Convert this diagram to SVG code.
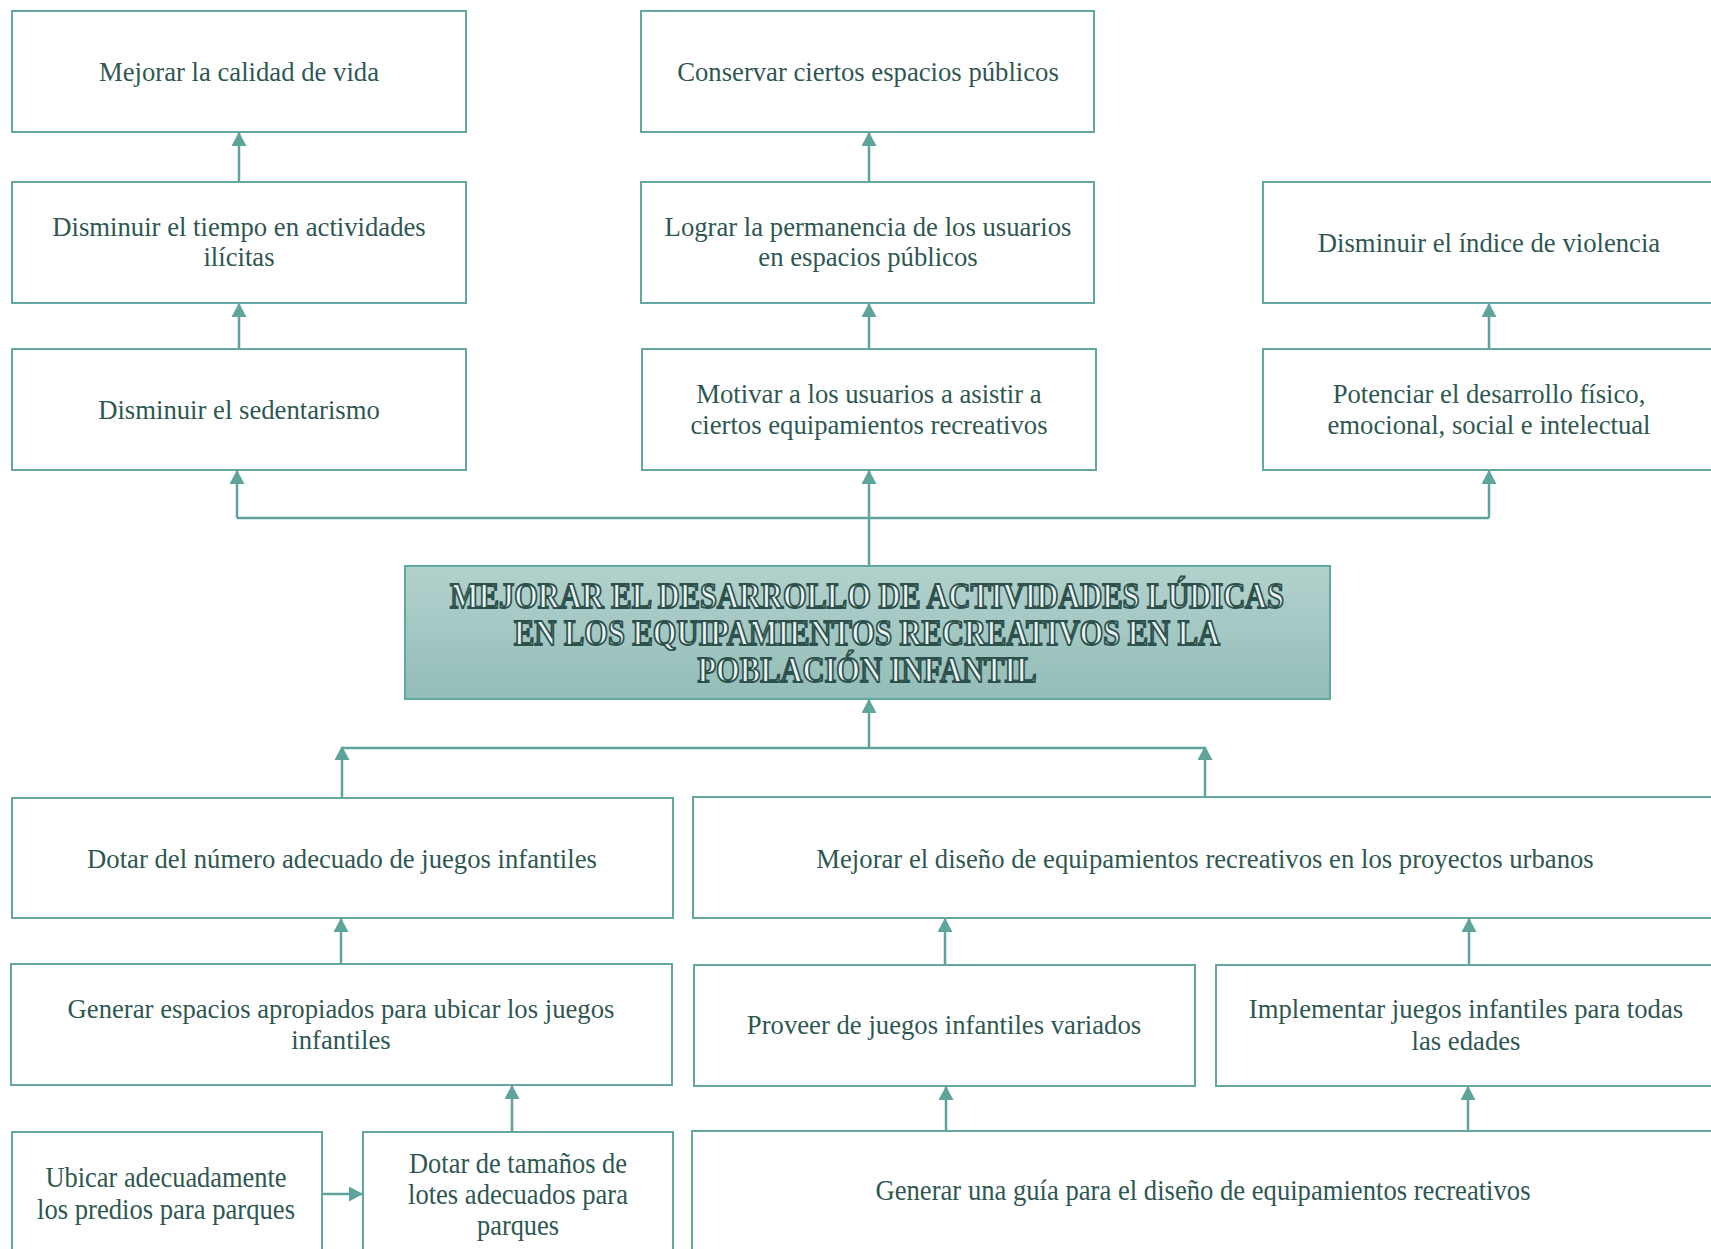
<svg xmlns="http://www.w3.org/2000/svg" width="1711" height="1249" viewBox="0 0 1711 1249">
<defs>
<linearGradient id="g" x1="0" y1="0" x2="0" y2="1">
<stop offset="0" stop-color="#b3d1cd"/>
<stop offset="1" stop-color="#93bdb8"/>
</linearGradient>
<marker id="ah" viewBox="0 0 14 15" refX="13" refY="7.5" markerWidth="14" markerHeight="15" markerUnits="userSpaceOnUse" orient="auto">
<path d="M0,0 L14,7.5 L0,15 Z" fill="#5fa39d"/>
</marker>
<style>
.box{fill:#ffffff;stroke:#64a6a0;stroke-width:2}
.t{font-family:"Liberation Serif","Times New Roman",serif;font-size:26.7px;fill:#2f5752;text-anchor:middle}
.b{font-family:"Liberation Serif","Times New Roman",serif;font-size:29px;fill:#2f5752;text-anchor:middle}
.h{font-family:"Liberation Serif","Times New Roman",serif;font-size:35px;font-weight:bold;fill:#eaf3f2;stroke:#2c504b;stroke-width:1.9;text-anchor:middle}
.c{fill:none;stroke:#5fa39d;stroke-width:2.5}
</style>
</defs>
<g id="connectors">
<line class="c" x1="239" y1="182" x2="239" y2="133" marker-end="url(#ah)"/>
<line class="c" x1="239" y1="349" x2="239" y2="304" marker-end="url(#ah)"/>
<line class="c" x1="869" y1="182" x2="869" y2="133" marker-end="url(#ah)"/>
<line class="c" x1="869" y1="349" x2="869" y2="304" marker-end="url(#ah)"/>
<line class="c" x1="1489" y1="349" x2="1489" y2="304" marker-end="url(#ah)"/>
<polyline class="c" points="237,518 1489,518"/>
<line class="c" x1="869" y1="566" x2="869" y2="518"/>
<line class="c" x1="237" y1="518" x2="237" y2="471" marker-end="url(#ah)"/>
<line class="c" x1="869" y1="518" x2="869" y2="471" marker-end="url(#ah)"/>
<line class="c" x1="1489" y1="518" x2="1489" y2="471" marker-end="url(#ah)"/>
<line class="c" x1="869" y1="748" x2="869" y2="700" marker-end="url(#ah)"/>
<line class="c" x1="342" y1="748" x2="1205" y2="748"/>
<line class="c" x1="342" y1="798" x2="342" y2="747" marker-end="url(#ah)"/>
<line class="c" x1="1205" y1="797" x2="1205" y2="747" marker-end="url(#ah)"/>
<line class="c" x1="341" y1="964" x2="341" y2="919" marker-end="url(#ah)"/>
<line class="c" x1="945" y1="965" x2="945" y2="919" marker-end="url(#ah)"/>
<line class="c" x1="1469" y1="965" x2="1469" y2="919" marker-end="url(#ah)"/>
<line class="c" x1="512" y1="1132" x2="512" y2="1086" marker-end="url(#ah)"/>
<line class="c" x1="946" y1="1131" x2="946" y2="1087" marker-end="url(#ah)"/>
<line class="c" x1="1468" y1="1131" x2="1468" y2="1087" marker-end="url(#ah)"/>
<line class="c" x1="322" y1="1194" x2="362" y2="1194" marker-end="url(#ah)"/>
</g>
<g id="n-a1"><rect class="box" x="12" y="11" width="454" height="121"/><text class="t" x="239" y="81">Mejorar la calidad de vida</text></g>
<g id="n-a2"><rect class="box" x="12" y="182" width="454" height="121"/><text class="t" x="239" y="236">Disminuir el tiempo en actividades</text><text class="t" x="239" y="266">ilícitas</text></g>
<g id="n-a3"><rect class="box" x="12" y="349" width="454" height="121"/><text class="t" x="239" y="419">Disminuir el sedentarismo</text></g>
<g id="n-b1"><rect class="box" x="641" y="11" width="453" height="121"/><text class="t" x="868" y="81">Conservar ciertos espacios públicos</text></g>
<g id="n-b2"><rect class="box" x="641" y="182" width="453" height="121"/><text class="t" x="868" y="236">Lograr la permanencia de los usuarios</text><text class="t" x="868" y="266">en espacios públicos</text></g>
<g id="n-b3"><rect class="box" x="642" y="349" width="454" height="121"/><text class="t" x="869" y="403">Motivar a los usuarios a asistir a</text><text class="t" x="869" y="434">ciertos equipamientos recreativos</text></g>
<g id="n-c2"><rect class="box" x="1263" y="182" width="454" height="121"/><text class="t" x="1489" y="252">Disminuir el índice de violencia</text></g>
<g id="n-c3"><rect class="box" x="1263" y="349" width="454" height="121"/><text class="t" x="1489" y="403">Potenciar el desarrollo físico,</text><text class="t" x="1489" y="434">emocional, social e intelectual</text></g>
<g id="n-center"><rect x="405" y="566" width="925" height="133" fill="url(#g)" stroke="#64a6a0" stroke-width="2"/>
<text class="h" x="867" y="608" textLength="834" lengthAdjust="spacingAndGlyphs">MEJORAR EL DESARROLLO DE ACTIVIDADES LÚDICAS</text>
<text class="h" x="867" y="645" textLength="706" lengthAdjust="spacingAndGlyphs">EN LOS EQUIPAMIENTOS RECREATIVOS EN LA</text>
<text class="h" x="867" y="682" textLength="339" lengthAdjust="spacingAndGlyphs">POBLACIÓN INFANTIL</text></g>
<g id="n-d1"><rect class="box" x="12" y="798" width="661" height="120"/><text class="t" x="342" y="868">Dotar del número adecuado de juegos infantiles</text></g>
<g id="n-e1"><rect class="box" x="693" y="797" width="1024" height="121"/><text class="t" x="1205" y="868">Mejorar el diseño de equipamientos recreativos en los proyectos urbanos</text></g>
<g id="n-d2"><rect class="box" x="11" y="964" width="661" height="121"/><text class="t" x="341" y="1018">Generar espacios apropiados para ubicar los juegos</text><text class="t" x="341" y="1049">infantiles</text></g>
<g id="n-e2a"><rect class="box" x="694" y="965" width="501" height="121"/><text class="t" x="944" y="1034">Proveer de juegos infantiles variados</text></g>
<g id="n-e2b"><rect class="box" x="1216" y="965" width="501" height="121"/><text class="t" x="1466" y="1018">Implementar juegos infantiles para todas</text><text class="t" x="1466" y="1050">las edades</text></g>
<g id="n-d3a"><rect class="box" x="12" y="1132" width="310" height="130"/><text class="b" x="166" y="1187" textLength="241" lengthAdjust="spacingAndGlyphs">Ubicar adecuadamente</text><text class="b" x="166" y="1219" textLength="258" lengthAdjust="spacingAndGlyphs">los predios para parques</text></g>
<g id="n-d3b"><rect class="box" x="363" y="1132" width="310" height="130"/><text class="b" x="518" y="1173" textLength="218" lengthAdjust="spacingAndGlyphs">Dotar de tamaños de</text><text class="b" x="518" y="1204" textLength="220" lengthAdjust="spacingAndGlyphs">lotes adecuados para</text><text class="b" x="518" y="1235" textLength="82" lengthAdjust="spacingAndGlyphs">parques</text></g>
<g id="n-e3"><rect class="box" x="692" y="1131" width="1025" height="130"/><text class="b" x="1203" y="1200" textLength="655" lengthAdjust="spacingAndGlyphs">Generar una guía para el diseño de equipamientos recreativos</text></g>
</svg>
